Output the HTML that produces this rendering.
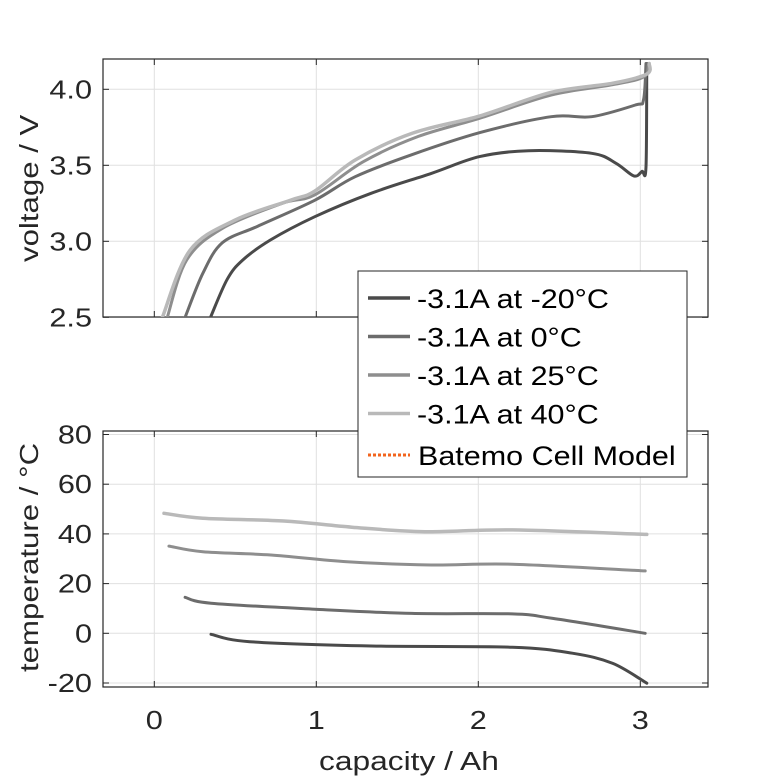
<!DOCTYPE html>
<html><head><meta charset="utf-8"><style>
html,body{margin:0;padding:0;background:#fff;}
svg{display:block;font-family:"Liberation Sans",sans-serif;}
</style></head><body>
<svg id="s" width="781" height="781" xmlns="http://www.w3.org/2000/svg"></svg>
<script>
const s=document.getElementById('s');
const L=103,R=708;
const X=x=>154.3+162*x;
const VY=v=>89.3-(v-4)*152;
const TY=t=>633.3-t*2.485;
let h='';
function T(x,y,str,size,anchor,col,rot,sx){
  sx=sx||1.18;
  h+=`<g transform="translate(${x},${y}) ${rot?'rotate(-90)':''} scale(${sx},1)"><text x="0" y="0" font-size="${size}" text-anchor="${anchor}" fill="${col}">${str}</text></g>`;
}
function axes(top,bot,yt,yf,labs){
  for(let x=0;x<=3;x++){h+=`<line x1="${X(x)}" y1="${top}" x2="${X(x)}" y2="${bot}" stroke="#e0e0e0" stroke-width="1"/>`;}
  yt.forEach(v=>{const y=yf(v);h+=`<line x1="${L}" y1="${y}" x2="${R}" y2="${y}" stroke="#e0e0e0" stroke-width="1"/>`;
    h+=`<line x1="${L}" y1="${y}" x2="${L+6}" y2="${y}" stroke="#262626"/><line x1="${R-6}" y1="${y}" x2="${R}" y2="${y}" stroke="#262626"/>`;
    T(L-11,y+9,labs(v),26,'end','#262626');});
  for(let x=0;x<=3;x++){h+=`<line x1="${X(x)}" y1="${top}" x2="${X(x)}" y2="${top+6}" stroke="#262626"/><line x1="${X(x)}" y1="${bot-6}" x2="${X(x)}" y2="${bot}" stroke="#262626"/>`;}
  h+=`<rect x="${L}" y="${top}" width="${R-L}" height="${bot-top}" fill="none" stroke="#262626" stroke-width="1.2"/>`;
}
function line(pts,f,col,w){
  const P=pts.map(p=>[X(p[0]),f(p[1])]);
  let d=`M${P[0][0].toFixed(1)},${P[0][1].toFixed(1)}`;
  for(let i=0;i<P.length-1;i++){
    const p0=P[Math.max(i-1,0)],p1=P[i],p2=P[i+1],p3=P[Math.min(i+2,P.length-1)];
    const c1=[p1[0]+(p2[0]-p0[0])/6,p1[1]+(p2[1]-p0[1])/6];
    const c2=[p2[0]-(p3[0]-p1[0])/6,p2[1]-(p3[1]-p1[1])/6];
    d+=` C${c1[0].toFixed(1)},${c1[1].toFixed(1)} ${c2[0].toFixed(1)},${c2[1].toFixed(1)} ${p2[0].toFixed(1)},${p2[1].toFixed(1)}`;
  }
  h+=`<path fill="none" stroke="${col}" stroke-width="${w}" stroke-linejoin="round" stroke-linecap="round" d="${d}"/>`;}
axes(59,317,[2.5,3,3.5,4],VY,v=>v.toFixed(1));
const c1='#4a4a4a',c2='#6c6c6c',c3='#8e8e8e',c4='#b9b9b9';
h+=`<svg x="${L}" y="59" width="${R-L}" height="258" viewBox="${L} 59 ${R-L} 258" overflow="hidden">`;
line([[0.347,2.5],[0.45,2.75],[0.546,2.877],[0.718,3.009],[0.991,3.162],[1.338,3.316],[1.71,3.447],[2.008,3.557],[2.31,3.596],[2.7,3.579],[2.85,3.513],[2.96,3.43],[3.01,3.46],[3.035,3.49],[3.04,4.17]],VY,c1,3);
line([[0.19,2.5],[0.3,2.79],[0.42,2.99],[0.64,3.1],[0.99,3.27],[1.24,3.425],[1.59,3.57],[2.01,3.715],[2.45,3.82],[2.7,3.82],[2.97,3.897],[3.02,3.93],[3.035,4.17]],VY,c2,3);
line([[0.08,2.5],[0.2,2.877],[0.42,3.085],[0.79,3.25],[0.99,3.305],[1.29,3.524],[1.63,3.69],[2.01,3.81],[2.45,3.962],[2.83,4.03],[3.02,4.08],[3.05,4.16]],VY,c3,3);
line([[0.05,2.5],[0.22,2.94],[0.5,3.14],[0.84,3.27],[0.99,3.33],[1.24,3.535],[1.59,3.71],[2.01,3.825],[2.45,3.98],[2.83,4.04],[3.04,4.1],[3.055,4.17]],VY,c4,3.5);
h+=`</svg>`;
axes(431,687,[-20,0,20,40,60,80],TY,v=>v);
line([[0.06,48.3],[0.3,46.3],[0.8,45.2],[1.22,42.7],[1.67,40.9],[2.21,41.6],[3.04,39.8]],TY,c4,3.5);
line([[0.09,35.1],[0.3,32.8],[0.72,31.5],[1.19,28.8],[1.71,27.5],[2.21,27.8],[3.03,25.1]],TY,c3,3);
line([[0.19,14.5],[0.35,12.1],[0.99,9.7],[1.59,8.0],[2.21,7.8],[2.46,6.0],[3.03,0]],TY,c2,3);
line([[0.35,-0.4],[0.59,-3.4],[1.34,-5.1],[2.21,-5.6],[2.58,-8.0],[2.83,-12.1],[3.04,-20.1]],TY,c1,3);
for(let x=0;x<=3;x++)T(X(x),729,x,26,'middle','#262626');
T(319,770,'capacity / Ah',26,'start','#262626',false,1.22);
T(38,262,'voltage / V',26,'start','#262626',true,1.2);
T(38,672,'temperature / °C',26,'start','#262626',true,1.2);
h+=`<rect x="358" y="271" width="329" height="206" fill="#fff" stroke="#262626" stroke-width="1"/>`;
const ent=[['-3.1A at -20°C',c1],['-3.1A at 0°C',c2],['-3.1A at 25°C',c3],['-3.1A at 40°C',c4]];
ent.forEach((e,i)=>{const y=298+i*38.5;h+=`<line x1="368" y1="${y}" x2="410" y2="${y}" stroke="${e[1]}" stroke-width="3.5"/>`;T(417,y+10,e[0],27,'start','#000',false,1.13);});
h+=`<line x1="368" y1="455" x2="410" y2="455" stroke="#f2641e" stroke-width="3" stroke-dasharray="3,2"/>`;
T(418,465,'Batemo Cell Model',27,'start','#000',false,1.13);
s.innerHTML=h;
</script>
</body></html>
